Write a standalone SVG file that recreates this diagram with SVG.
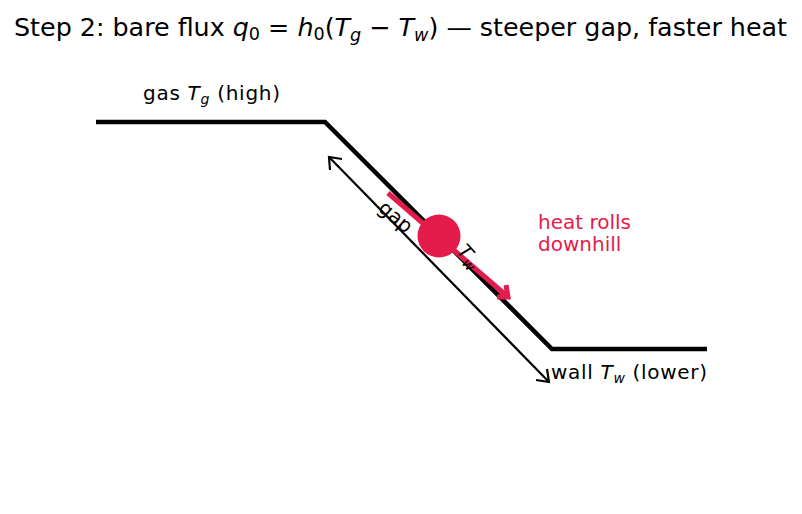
<svg xmlns="http://www.w3.org/2000/svg" width="802" height="514" viewBox="0 0 802 514">
<style>
text{font-family:"DejaVu Sans",sans-serif;fill:#000}
.it{font-style:italic}
.lbl{font-size:20px}
.red{fill:#e31c4b}
</style>
<rect width="802" height="514" fill="#fff"/>
<text x="14" y="36" font-size="24.5px" textLength="773" lengthAdjust="spacingAndGlyphs">Step 2: bare flux <tspan class="it">q</tspan><tspan font-size="17" dy="4">0</tspan><tspan dy="-4"> = </tspan><tspan class="it">h</tspan><tspan font-size="17" dy="4">0</tspan><tspan dy="-4">(</tspan><tspan class="it">T</tspan><tspan class="it" font-size="17" dy="5">g</tspan><tspan dy="-5"> − </tspan><tspan class="it">T</tspan><tspan class="it" font-size="17" dy="5">w</tspan><tspan dy="-5">) — steeper gap, faster heat</tspan></text>
<g id="profile">
<polyline points="96,122 325,122 552,349 707,349" fill="none" stroke="#000" stroke-width="4.5"/>
</g>
<g id="connectors" fill="none">
<line x1="329" y1="157" x2="549" y2="382" stroke="#000" stroke-width="2.2"/>
<polyline points="330,170 329,157 342,159" stroke="#000" stroke-width="2.2"/>
<polyline points="536,380 549,382 547,369" stroke="#000" stroke-width="2.2"/>
<line x1="388" y1="193" x2="508" y2="297" stroke="#e31c4b" stroke-width="5"/>
<polyline points="497,297 508,297 506,285" stroke="#e31c4b" stroke-width="5"/>
</g>
<g id="ball"><circle cx="439" cy="236" r="21.5" fill="#e31c4b"/></g>
<g id="gap-label"><text class="lbl" transform="translate(377,210) rotate(40)">gap</text></g>
<g id="tw-label"><text class="lbl it" transform="translate(456,252) rotate(48)">T<tspan font-size="14" dy="4">w</tspan></text></g>
<g id="gas-label"><text class="lbl" x="143" y="100" textLength="137" lengthAdjust="spacing">gas <tspan class="it">T</tspan><tspan class="it" font-size="14" dy="4">g</tspan><tspan dy="-4"> (high)</tspan></text></g>
<g id="wall-label"><text class="lbl" x="551" y="379" textLength="156" lengthAdjust="spacing">wall <tspan class="it">T</tspan><tspan class="it" font-size="14" dy="4">w</tspan><tspan dy="-4"> (lower)</tspan></text></g>
<g id="heat-label"><text class="lbl red" x="538" y="229">heat rolls</text><text class="lbl red" x="538" y="251">downhill</text></g>
</svg>
